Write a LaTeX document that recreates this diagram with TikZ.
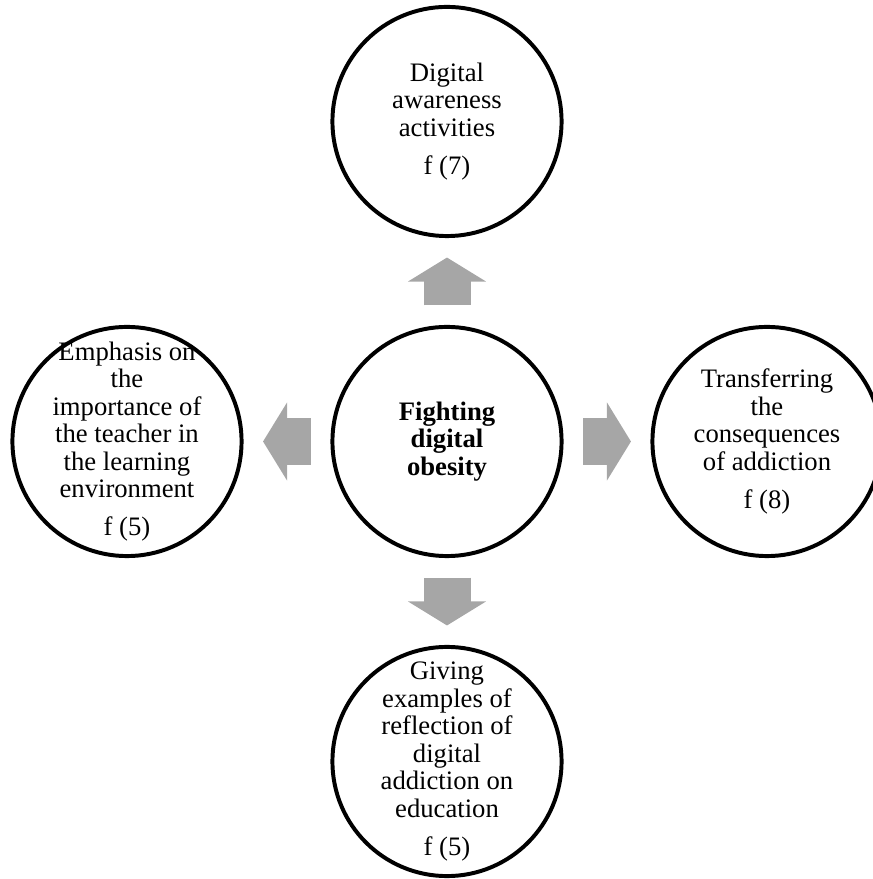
\documentclass[tikz,border=0pt]{standalone}
\usepackage{fontspec}
\setmainfont{Liberation Serif}
\usetikzlibrary{positioning,arrows.meta}
\definecolor{arrowgray}{RGB}{166,166,166}
\tikzset{
  bubble/.style={circle, draw, line width=1.9pt, minimum size=110pt,
                 inner sep=0pt, outer sep=0pt},
  blurb/.style={align=center, inner sep=0pt,
                font=\fontsize{12.8}{13.2}\selectfont},
  fat/.style={draw=arrowgray, line width=22.56pt,
              -{Triangle[width=36.96pt,length=11.52pt]},
              shorten <=10.3pt, shorten >=10.3pt}
}

\begin{document}
\begin{tikzpicture}[node distance=43.6pt]
                   \useasboundingbox (-214.56pt,-210pt) rectangle (204.48pt,211.92pt);
                   \node[bubble,label={[blurb,font=\fontsize{12.8}{13.2}\bfseries]center:{Fighting\\digital\\obesity}}] (hub) {};
                   \node[bubble,label={[blurb]center:{Digital\\awareness\\activities\\[5pt]f (7)}}] (top) [above=of hub] {};
                   \node[bubble,label={[blurb]center:{Emphasis on\\the\\importance of\\the teacher in\\the learning\\environment\\[5pt]f (5)}}] (left) [left=of hub] {};
                   \node[bubble,label={[blurb]center:{Transferring\\the\\consequences\\of addiction\\[5pt]f (8)}}] (right) [right=of hub] {};
                   \node[bubble,label={[blurb]center:{Giving\\examples of\\reflection of\\digital\\addiction on\\education\\[5pt]f (5)}}] (bottom) [below=of hub] {};
                    \path
                    (hub) edge [fat] (top)
                          edge [fat] (left)
                          edge [fat] (right)
                          edge [fat] (bottom);
                \end{tikzpicture}
\end{document}
